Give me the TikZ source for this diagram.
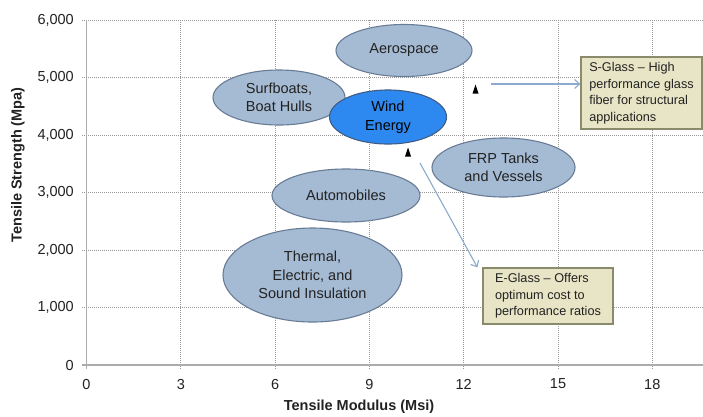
\documentclass[tikz,border=0pt]{standalone}
\usepackage{fontspec}
\setmainfont{Liberation Sans}
\usetikzlibrary{shapes.geometric,arrows.meta}

\definecolor{bubblefill}{RGB}{165,186,211}
\definecolor{bubbleline}{RGB}{104,124,150}
\definecolor{windfill}{RGB}{45,137,239}
\definecolor{windline}{RGB}{62,92,132}
\definecolor{notefill}{RGB}{232,229,198}
\definecolor{noteline}{RGB}{138,138,108}
\definecolor{pointercol}{RGB}{140,170,205}
\definecolor{axiscol}{RGB}{172,172,172}
\definecolor{gridcol}{RGB}{150,150,150}
\definecolor{inkcol}{RGB}{34,34,34}

\tikzset{
  market/.style={ellipse, draw=bubbleline, line width=1.1pt, fill=bubblefill,
    inner sep=0pt, align=center, text=inkcol, font=\fontsize{14.5}{18.5}\selectfont},
  windmarket/.style={market, fill=windfill, draw=windline, text={RGB:red,20;green,35;blue,70}},
  note/.style={rectangle, draw=noteline, line width=1.2pt, fill=notefill, inner xsep=7pt,
    inner ysep=0pt, align=left, text=inkcol, font=\fontsize{12.7}{16.5}\selectfont},
  pointer/.style={draw=pointercol, line width=1.1pt, -{Straight Barb[length=5pt,width=9pt]}},
  gridline/.style={draw=gridcol, line width=0.7pt, dash pattern=on 1pt off 1pt},
  axisline/.style={draw=axiscol, line width=1.3pt},
  ticklabel/.style={text=inkcol, font=\fontsize{14.5}{16}\selectfont, inner sep=0pt},
  axistitle/.style={text=inkcol, font=\bfseries\fontsize{14.5}{16}\selectfont, inner sep=0pt},
}

\begin{document}
\begin{tikzpicture}[x=1pt,y=-1pt]
  \useasboundingbox[fill=white] (0,0) rectangle (703,416);

  % grid: strength every 1,000 Mpa, modulus every 3 Msi
  \foreach \v in {1,...,6} {
    \pgfmathsetmacro{\yy}{365-57.5*\v}
    \draw[gridline] (82,\yy) -- (703,\yy);
    \node[ticklabel, anchor=east] (ylab\v) at (74,\yy) {\v,000};
  }
  \foreach \m in {1,...,6} {
    \pgfmathsetmacro{\xx}{86.5+94.3*\m}
    \pgfmathtruncatemacro{\lab}{3*\m}
    \draw[gridline] (\xx,20) -- (\xx,369);
    \node[ticklabel] (xlab\m) at (\xx,384) {\lab};
  }
  \node[ticklabel, anchor=east] (ylab0) at (74,365) {0};
  \node[ticklabel] (xlab0) at (86.5,384) {0};

  % axes
  \draw[axisline] (86.5,20) -- (86.5,365) -- (703,365);
  \draw[axisline] (82,365) -- (86.5,365) -- (86.5,369);

  \node[axistitle] (xtitle) at (359,407) {Tensile Modulus (Msi)};
  \node[axistitle, rotate=90] (ytitle) at (18,165) {Tensile Strength (Mpa)};

  % application bubbles
  \node[market, minimum width=136pt, minimum height=52pt] (aero) at (404,50.5) {Aerospace};
  \node[market, minimum width=132pt, minimum height=55pt] (surf) at (279,97.5) {Surfboats,\\Boat Hulls};
  \node[windmarket, minimum width=117pt, minimum height=54pt] (wind) at (388,117) {Wind\\Energy};
  \node[market, minimum width=143pt, minimum height=59pt] (frp) at (503.5,167.5) {FRP Tanks\\and Vessels};
  \node[market, minimum width=148pt, minimum height=53pt] (auto) at (346,195.5) {Automobiles};
  \node[market, minimum width=179pt, minimum height=94pt] (therm) at (312.5,275) {Thermal,\\Electric, and\\Sound Insulation};

  % glass type notes
  \node[note, minimum width=121pt, minimum height=72pt] (sbox) at (641.5,93) {S-Glass – High\\performance glass\\fiber for structural\\applications};
  \node[note, minimum width=130pt, minimum height=56pt] (ebox) at (548,296) {E-Glass – Offers\\optimum cost to\\performance ratios};

  % glass markers
  \coordinate (smark) at (475.5,89);
  \coordinate (emark) at (408,152);
  \fill[black] ([shift={(-3,4.5)}]smark) -- ([shift={(0,-4.5)}]smark) -- ([shift={(3,4.5)}]smark) -- cycle;
  \fill[black] ([shift={(-3,4.5)}]emark) -- ([shift={(0,-4.5)}]emark) -- ([shift={(3,4.5)}]emark) -- cycle;

  % pointers to the notes
  \coordinate (sfrom) at (491,84);
  \coordinate (efrom) at (420,163);
  \draw[pointer] (sfrom) -- (sfrom -| sbox.west);
  \draw[pointer] (efrom) -- ([xshift=-5pt]ebox.north west);
\end{tikzpicture}
\end{document}
